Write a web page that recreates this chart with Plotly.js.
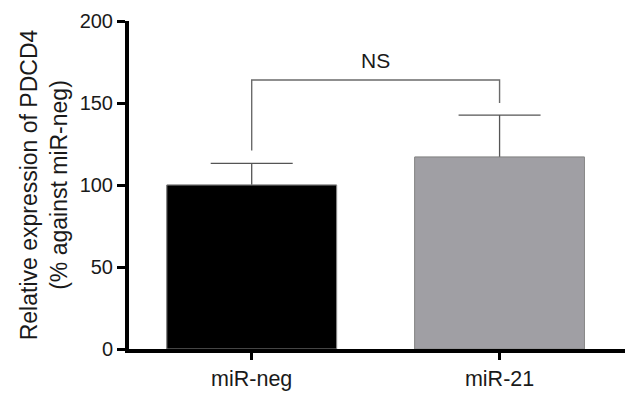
<!DOCTYPE html>
<html><head><meta charset="utf-8">
<script src="https://cdn.plot.ly/plotly-3.0.1.min.js"></script>
<style>html,body{margin:0;padding:0;background:#fff}#chart{width:626px;height:394px}</style>
</head><body><div id="chart"></div>
<script>
const categories = ["miR-neg", "miR-21"];
const means = [100, 117];
const errUp = [13.2, 25.6];
const barColors = ["#000000", "#a09fa4"];
const bracketY = 164;
const bracketLegs = [121, 150];
const sigLabel = "NS";
const yTicks = [0, 50, 100, 150, 200];

const fontFam = "Liberation Sans, Arial, sans-serif";
const txt = "#1a1a1a";
const data = [{
  type: "bar", x: [0, 1], y: means, width: 0.685,
  marker: {color: barColors, line: {color: "#8a8a8a", width: 1}},
  error_y: {type: "data", array: errUp, color: "#555555", thickness: 1.3, width: 41},
  hoverinfo: "none"
}, {
  type: "bar", x: [0, 1], y: means, width: 0.685,
  marker: {color: barColors, line: {color: "#8a8a8a", width: 1}},
  hoverinfo: "none"
}, {
  type: "scatter", mode: "lines",
  x: [0, 0, 1, 1], y: [bracketLegs[0], bracketY, bracketY, bracketLegs[1]],
  line: {color: "#6b6b6b", width: 1.4}, hoverinfo: "none"
}];
const layout = {
  width: 626, height: 394,
  margin: {l: 129, r: 1, t: 21, b: 45},
  barmode: "overlay",
  showlegend: false,
  paper_bgcolor: "#fff", plot_bgcolor: "#fff",
  font: {family: fontFam, color: txt, size: 18},
  xaxis: {range: [-0.495, 1.506], tickvals: [0, 1], ticktext: categories,
          showgrid: false, zeroline: false, showline: true, linecolor: "#000", linewidth: 4,
          ticks: "outside", ticklen: 7, tickwidth: 3, tickcolor: "#000",
          tickfont: {size: 21.5, family: fontFam, color: txt}, fixedrange: true},
  yaxis: {range: [0, 200], tickvals: yTicks,
          showgrid: false, zeroline: false, showline: true, linecolor: "#000", linewidth: 4,
          ticks: "outside", ticklen: 8, tickwidth: 3, tickcolor: "#000",
          tickfont: {size: 20, family: fontFam, color: txt},
          title: {text: "Relative expression of PDCD4<br>(% against miR-neg)", standoff: 7,
                  font: {size: 23, family: fontFam, color: txt}}, fixedrange: true},
  annotations: [{x: 0.5, y: bracketY, xref: "x", yref: "y", text: sigLabel, showarrow: false,
                 yanchor: "bottom", yshift: 6, font: {size: 21, family: fontFam, color: txt}}]
};
Plotly.newPlot("chart", data, layout, {staticPlot: true, displayModeBar: false});
</script></body></html>
